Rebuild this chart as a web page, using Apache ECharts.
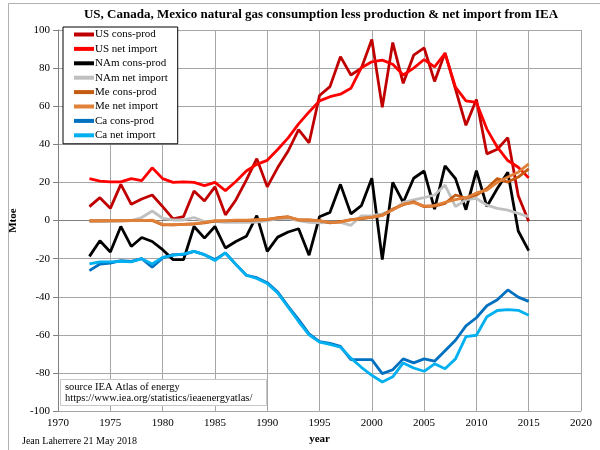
<!DOCTYPE html>
<html>
<head>
<meta charset="utf-8">
<script src="https://cdn.jsdelivr.net/npm/echarts@6/dist/echarts.min.js"></script>
<style>
  html, body { margin: 0; padding: 0; background: #fff; }
  #chart { width: 600px; height: 450px; }
</style>
</head>
<body>
<div id="chart"></div>
<script>
// years 1973 - 2015
var years = [];
for (var y = 1973; y <= 2015; y++) years.push(y);

var usCons = [7.3, 12, 6.4, 19, 8.5, 11.3, 13.4, 7.3, 0.9, 2.1, 15.5, 10.3, 17.7, 3, 10.8, 21.2, 32.5, 17.7, 27.8, 36.5,
    47.7, 40.8, 65.6, 70.3, 86, 76.4, 80, 95, 59.4, 93.4, 72, 86.8, 90.6, 73, 88, 69, 50, 63.5, 35, 37.4, 43.5, 13, -0.4];
var usNet = [22, 20.7, 20.3, 20.3, 22, 21, 27.7, 22, 20, 20.3, 20, 18.3, 20, 15.7, 20.5, 26, 29.5, 31.6, 37.3, 43.4,
    50.7, 57, 62.8, 65, 66.3, 69.4, 80.2, 83.3, 84.2, 82, 76.4, 80, 84.5, 80.7, 87.7, 70, 62.8, 62, 48, 38.5, 31.5, 28, 22.4];
var namCons = [-18.8, -10.6, -16.5, -3.1, -13.6, -8.9, -11, -15.3, -20.5, -20.5, -3.1, -9.2, -3.1, -14.4, -11, -8.3, 2.6, -16.2, -8.7, -6,
    -4.3, -18.2, 2, 4.3, 19, 3.5, 7.8, 22.2, -20.5, 20, 9.5, 22.2, 26, 6, 28.7, 22, 5.7, 26.2, 7.4, 16.8, 25.4, -5.5, -15.8];
var namNet = [-0.5, -0.5, -0.5, -0.3, 0, 1.6, 5, 1.2, 0.3, 0.3, 1.6, -0.5, -0.5, -1, -1, -1, -0.8, 0, 1, 1.2,
    0, -1, -1.2, -1, -1, -2.5, 2.5, 2.6, 3.5, 5.5, 9.5, 10.8, 12, 13.4, 18.6, 7.3, 11, 11.6, 8.1, 6.4, 5.5, 3.8, 2];
var meCons = [0, 0, 0, 0, 0, 0, 0, -2.3, -2.3, -2, -1.8, -1.2, -0.3, -0.2, 0, 0, 0.3, 0.5, 1.5, 2,
    0.3, 0.3, 0, -1.2, -0.5, 0.5, 1, 1.7, 2.8, 6, 8.3, 9.8, 7.3, 7.6, 9, 13.4, 11.7, 13.4, 16.8, 22, 20.2, 22.8, 27.1];
var meNet = [-0.3, -0.3, -0.2, -0.2, 0, 0, 0.2, -2, -2.2, -2, -1.6, -1, 0, 0, 0.2, 0.2, 0.5, 0.7, 1.2, 1.8,
    0.5, 0.2, -0.2, -1, -0.8, 0.3, 1.2, 1.8, 2.6, 5.6, 8.6, 9.4, 7.6, 8, 9.6, 11, 12, 14.5, 16, 20, 22.8, 25.4, 29.7];
var caCons = [-26.3, -22.8, -22.3, -21, -21.4, -20, -24.5, -19.6, -17.9, -17.9, -16.2, -17.9, -20.5, -17, -23, -28.7, -30, -32.6, -37.5, -45,
    -52, -59.5, -63.6, -64.5, -66, -73, -73, -73, -80.3, -78.3, -72.6, -74.7, -72.6, -73.8, -68.3, -62.8, -55.3, -51, -44.7, -41.6, -36.4, -40.2, -42.4];
var caNet = [-22.8, -21.7, -21.7, -21.4, -21.7, -20, -22.8, -19.3, -18.3, -17.5, -16.2, -17.9, -21, -17, -23, -28.7, -30.4, -33, -38, -45.5,
    -53, -60, -63.8, -65, -66.5, -72.2, -77, -81.2, -84.7, -82, -74.7, -77.4, -79.1, -75.2, -77.8, -72.6, -60.9, -60.2, -50.5, -47.2, -46.7, -47.1, -49.7];

var names = ['US cons-prod', 'US net import', 'NAm cons-prod', 'NAm net import',
    'Me cons-prod', 'Me net import', 'Ca cons-prod', 'Ca net import'];
var colors = ['#c00000', '#ff0000', '#000000', '#c0c0c0', '#c55a11', '#e0813a', '#0070c0', '#00b0f0'];
var values = [usCons, usNet, namCons, namNet, meCons, meNet, caCons, caNet];

var serif = 'Liberation Serif, Times New Roman, serif';

function pairs(arr) {
    return arr.map(function (v, i) { return [years[i], v]; });
}

var series = names.map(function (n, k) {
    return {
        name: n,
        type: 'line',
        symbol: 'none',
        data: pairs(values[k]),
        lineStyle: { color: colors[k], width: 2.8 },
        itemStyle: { color: colors[k] },
        z: 3 + k
    };
});

var chart = echarts.init(document.getElementById('chart'));
chart.setOption({
    animation: false,
    backgroundColor: '#fff',
    grid: { left: 45, right: 19, top: 30, bottom: 35 },
    legend: {
        orient: 'vertical',
        left: 63,
        top: 27,
        data: names,
        icon: 'rect',
        itemWidth: 20,
        itemHeight: 4,
        itemGap: 2.4,
        padding: [1.5, 10, 2.5, 11],
        borderColor: '#000',
        borderWidth: 1,
        backgroundColor: '#fff',
        textStyle: { fontFamily: serif, fontSize: 11, color: '#000', lineHeight: 12, padding: [0, 0, 0, -4] }
    },
    xAxis: {
        type: 'value',
        min: 1970,
        max: 2020,
        interval: 5,
        name: 'year',
        nameLocation: 'middle',
        nameGap: 22,
        nameTextStyle: { fontFamily: serif, fontSize: 11, fontWeight: 'bold', color: '#000' },
        axisLine: { show: true, lineStyle: { color: '#808080' } },
        axisTick: { show: false },
        axisLabel: { fontFamily: serif, fontSize: 11, color: '#000', margin: 7, formatter: function (v) { return String(v); } },
        splitLine: { show: true, lineStyle: { color: '#a6a6a6', width: 1 } }
    },
    yAxis: {
        type: 'value',
        min: -100,
        max: 100,
        interval: 20,
        name: 'Mtoe',
        nameLocation: 'middle',
        nameGap: 31,
        nameTextStyle: { fontFamily: serif, fontSize: 11, fontWeight: 'bold', color: '#000' },
        axisLine: { show: true, lineStyle: { color: '#808080' } },
        axisTick: { show: true, length: 5, inside: false, lineStyle: { color: '#808080' } },
        axisLabel: { fontFamily: serif, fontSize: 11, color: '#000', margin: 8 },
        splitLine: { show: true, lineStyle: { color: '#a6a6a6', width: 1 } }
    },
    graphic: [
        {
            type: 'rect', shape: { x: 8.5, y: 3.5, width: 600, height: 460 },
            style: { fill: 'none', stroke: '#b0b0b0', lineWidth: 1 }, silent: true
        },
        {
            type: 'text', x: 321, y: 15,
            style: {
                text: 'US, Canada, Mexico natural gas consumption less production & net import from IEA',
                font: 'bold 13px ' + serif, fill: '#000', textAlign: 'center', textVerticalAlign: 'middle'
            }
        },
        {
            type: 'rect', shape: { x: 60.5, y: 379.5, width: 206, height: 26 }, z: 20,
            style: { fill: '#fff', stroke: '#c8c8c8', lineWidth: 1 }
        },
        {
            type: 'text', x: 65, y: 387, z: 21,
            style: { text: 'source IEA Atlas of energy', font: '10.5px ' + serif, fill: '#000', textVerticalAlign: 'middle' }
        },
        {
            type: 'text', x: 65, y: 398, z: 21,
            style: { text: 'https://www.iea.org/statistics/ieaenergyatlas/', font: '10.5px ' + serif, fill: '#000', textVerticalAlign: 'middle' }
        },
        {
            type: 'text', x: 22, y: 441,
            style: { text: 'Jean Laherrere 21 May 2018', font: '10px ' + serif, fill: '#000', textVerticalAlign: 'middle' }
        }
    ],
    series: series
});
</script>
</body>
</html>
